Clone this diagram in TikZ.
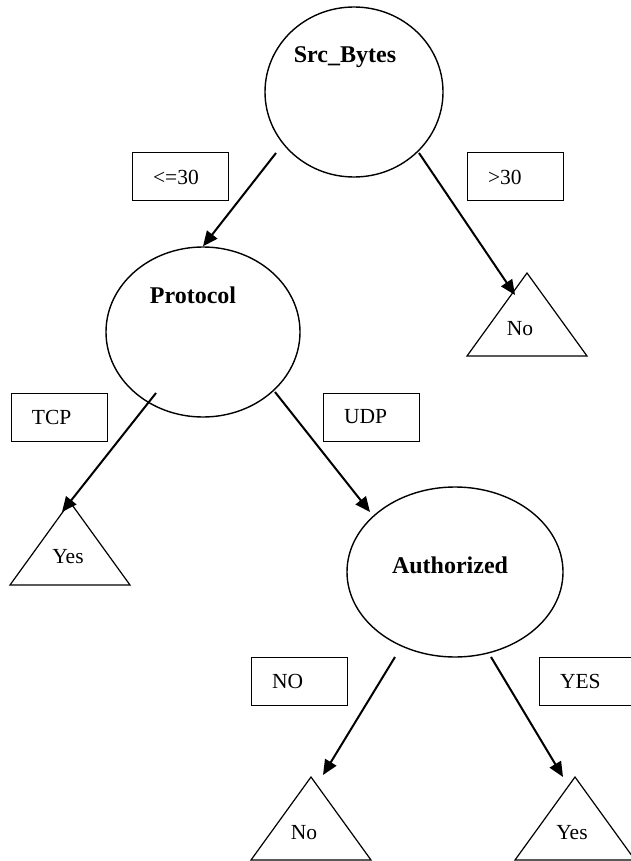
\documentclass[tikz,border=0pt]{standalone}
\usepackage{fontspec}
\setmainfont{Liberation Serif}
\usepackage{tikz}
\usetikzlibrary{shapes.geometric}
\usetikzlibrary{arrows,arrows.meta}
\usetikzlibrary{calc}

\begin{document}
\begin{tikzpicture}[x=0.5pt, y=-0.5pt, >={Triangle[length=7.5pt,width=6.5pt]},
	attr/.style={draw, ellipse, line width=0.7pt, minimum height=85pt, inner sep=0pt},
	attrname/.style={font=\fontsize{12}{14}\selectfont\bfseries},
	cond/.style={draw, line width=0.5pt, minimum height=24pt, inner xsep=10.5pt, text width=27pt, align=left, font=\fontsize{10.75}{13}\selectfont},
	leaf/.style={font=\fontsize{10.75}{13}\selectfont},
	edge/.style={->, line width=1pt}]

	\useasboundingbox (0,0) rectangle (631,861);

	% attributes
	\node[attr, minimum width=89pt, label={[attrname, xshift=-4.5pt, yshift=17.5pt]center:Src\_Bytes}] (src) at (354,92) {};
	\node[attr, minimum width=97pt, label={[attrname, xshift=-5pt, yshift=18.5pt]center:Protocol}] (proto) at (203,332) {};
	\node[attr, minimum width=108pt, label={[attrname, xshift=-2.5pt, yshift=3.5pt]center:Authorized}] (auth) at (455,572) {};

	% branch values
	\node[cond] (le) at (180,177) {<=30};
	\node[cond] (gt) at (515,177) {>30};
	\node[cond] (tcp) at (59,417) {TCP};
	\node[cond] (udp) at (371,417) {UDP};
	\node[cond] (no) at (299,681) {NO};
	\node[cond] (yes) at (587,681) {YES};

	% leaves
	\coordinate (no1top) at (527,273);
	\coordinate (yes1top) at (70,502);
	\coordinate (no2top) at (311,777);
	\coordinate (yes2top) at (575,777);
	\foreach \t in {no1top,yes1top,no2top,yes2top}
		\draw[line width=0.6pt] (\t) -- ++(60,83) -- ++(-120,0) -- cycle;
	\node[leaf] (no1) at (520,329) {No};
	\node[leaf] (yes1) at (68,557) {Yes};
	\node[leaf] (no2) at (304,833) {No};
	\node[leaf] (yes2) at (572,833) {Yes};

	\draw[edge] ($(src)+(-78,61)$) -- (proto.north);
	\draw[edge] ($(src)+(65,61)$) -- ($(no1top)+(-12,22)$);
	\draw[edge] ($(proto)+(-47,61)$) -- ($(yes1top)+(-8,10)$);
	\draw[edge] ($(proto)+(72,60)$) -- ($(auth)+(-85,-60)$);
	\draw[edge] ($(auth)+(-60,85)$) -- ($(no2top)+(12,-2)$);
	\draw[edge] ($(auth)+(36,85)$) -- ($(yes2top)+(-12,0)$);

\end{tikzpicture}
\end{document}
